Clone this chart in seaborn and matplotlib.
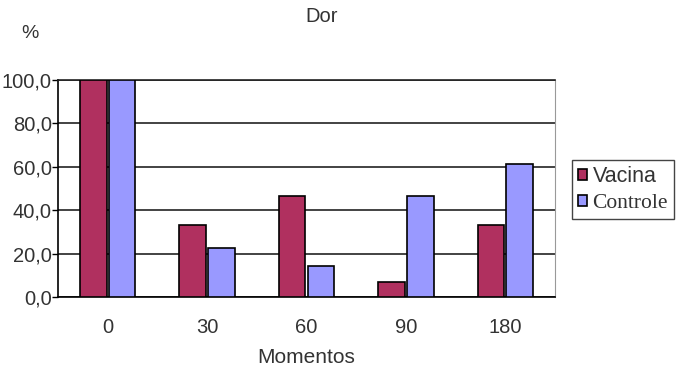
import numpy as np
import pandas as pd
import matplotlib
matplotlib.use("Agg")
import matplotlib.pyplot as plt
import seaborn as sns
from matplotlib.ticker import FuncFormatter

# Data
momentos = ["0", "30", "60", "90", "180"]
vacina = [100.0, 33.3, 46.7, 6.7, 33.3]
controle = [100.0, 22.5, 14.5, 46.7, 61.5]

df = pd.DataFrame({
    "Momentos": momentos * 2,
    "valor": vacina + controle,
    "grupo": ["Vacina"] * len(momentos) + ["Controle"] * len(momentos),
})

sns.set_style("white")
plt.rcParams["font.family"] = ["Liberation Sans", "DejaVu Sans"]

fig = plt.figure(figsize=(6.85, 3.69), dpi=100)
ax = fig.add_axes([58 / 685, 1 - 297 / 369, (555 - 58) / 685, (297 - 80) / 369])

sns.barplot(data=df, x="Momentos", y="valor", hue="grupo", order=momentos,
            palette={"Vacina": "#b0305f", "Controle": "#9999ff"},
            width=0.58, gap=0.08, edgecolor="black", linewidth=1.2,
            saturation=1, ax=ax, zorder=3)

ax.set_xlim(-0.5, len(momentos) - 0.5)
ax.set_ylim(0, 100)
ax.set_yticks(np.arange(0, 101, 20))
ax.yaxis.set_major_formatter(FuncFormatter(lambda v, p: f"{v:.1f}".replace(".", ",")))
ax.yaxis.grid(True, color="#222222", linewidth=1.2, zorder=0)
ax.set_axisbelow(True)

ax.set_xticks(np.arange(-0.5, len(momentos), 1), minor=True)
ax.tick_params(axis="x", which="major", length=0, pad=15, labelsize=14.5, colors="#333333")
ax.tick_params(axis="x", which="minor", length=5, width=1, color="black", direction="out")
ax.tick_params(axis="y", length=4, width=1, color="black", direction="out",
               labelsize=14.5, colors="#333333", pad=0.5)
ax.tick_params(axis="both", bottom=True, left=True)

for side in ["left", "bottom"]:
    ax.spines[side].set_color("black")
    ax.spines[side].set_linewidth(1.2)
ax.spines["top"].set_color("#222222")
ax.spines["top"].set_linewidth(1.2)
ax.spines["right"].set_color("#999999")

ax.set_xlabel("Momentos", fontsize=15, color="#333333", labelpad=8)
ax.set_ylabel("")
ax.get_legend().remove()

fig.text(322 / 685, 1 - 16 / 369, "Dor", ha="center", va="center", fontsize=14.5, color="#333333")
fig.text(30 / 685, 1 - 33 / 369, "%", ha="center", va="center", fontsize=14, color="#333333")

handles, labels = ax.get_legend_handles_labels()
leg = fig.legend(handles, labels, loc="upper left",
                 bbox_to_anchor=(572 / 685, 1 - 160 / 369),
                 fontsize=15.5, frameon=True, fancybox=False, framealpha=1,
                 edgecolor="#444444", handlelength=0.4, handleheight=0.4,
                 handletextpad=0.25, borderpad=0.3, labelspacing=0.3,
                 borderaxespad=0)
leg.get_frame().set_linewidth(1)
leg.get_texts()[1].set_fontfamily("Liberation Serif")
for t in leg.get_texts():
    t.set_color("#333333")

fig.savefig("out.png", dpi=100)
